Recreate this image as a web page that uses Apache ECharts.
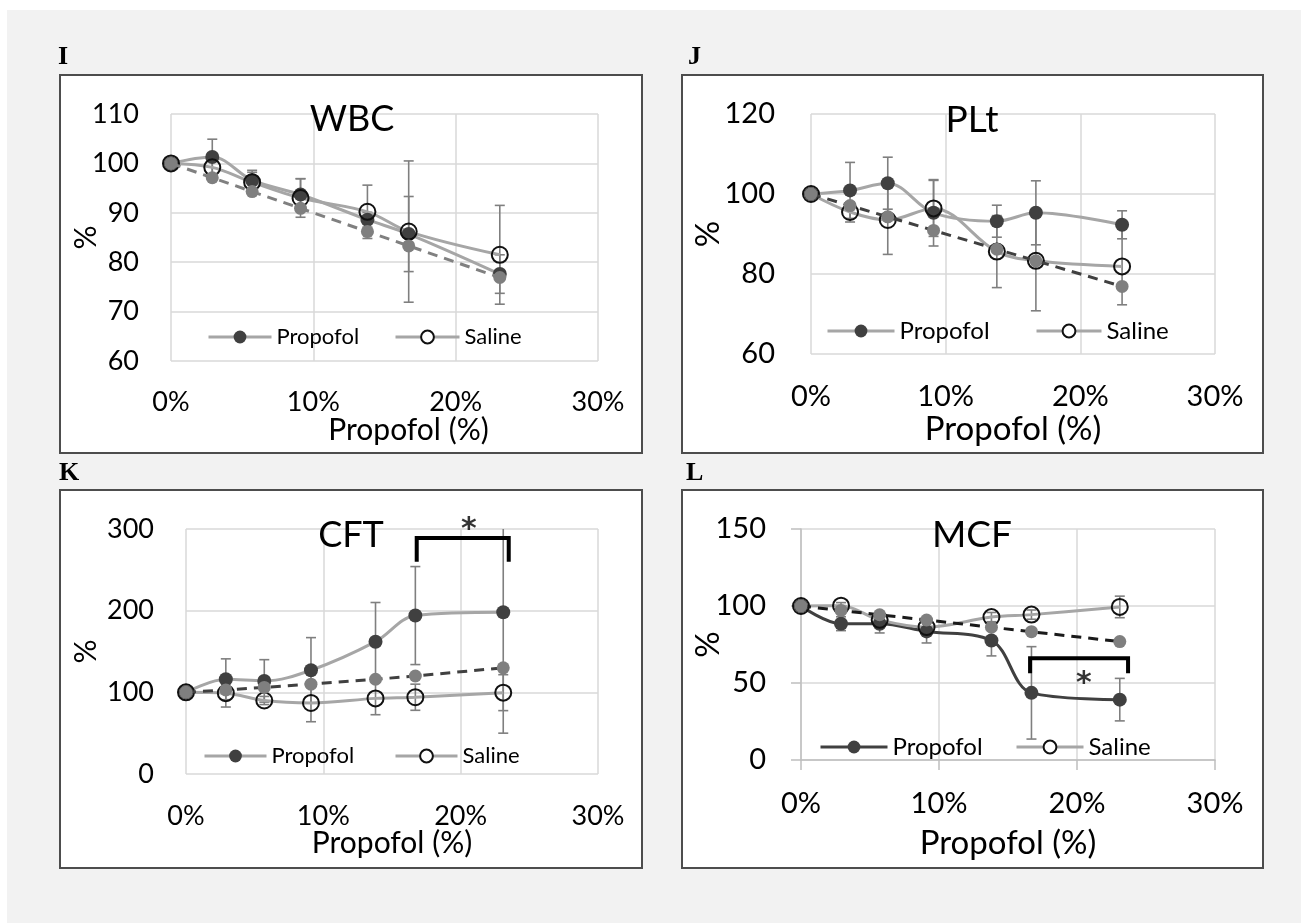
<!DOCTYPE html>
<html>
<head>
<meta charset="utf-8">
<script src="https://cdn.jsdelivr.net/npm/echarts@6/dist/echarts.min.js"></script>
<style>
  html, body { margin: 0; padding: 0; background: #ffffff; }
  #fig { width: 1301px; height: 923px; }
</style>
</head>
<body>
<div id="fig"></div>
<script>
// Propofol fraction of the sample volume at each dilution step
const propofolConc = [0, 0.029, 0.057, 0.091, 0.138, 0.167, 0.231];

// Values expected from dilution alone (grey dots, dashed line)
const expectedDilution = [100, 97.1, 94.3, 90.9, 86.2, 83.3, 76.9];
const expectedCFT      = [100, 103, 106, 110, 116, 120, 130];

// WBC, % of baseline
const wbcPropofol   = [100, 101.3, 96.6, 93.7, 88.6, 85.7, 77.6];
const wbcPropofolSD = [0, 3.6, 2.0, 3.2, 1.5, 7.6, 3.9];
const wbcSaline     = [100, 99.2, 96.2, 93.0, 90.2, 86.2, 81.5];
const wbcSalineSD   = [0, 1.5, 2.0, 3.9, 5.4, 14.3, 10.0];

// Platelets, % of baseline
const pltPropofol   = [100, 100.9, 102.7, 95.3, 93.2, 95.3, 92.3];
const pltPropofolSD = [0, 7.0, 6.5, 8.3, 4.0, 8.0, 3.5];
const pltSaline     = [100, 95.5, 93.5, 96.4, 85.6, 83.3, 81.9];
const pltSalineSD   = [0, 2.5, 8.6, 7.0, 9.0, 12.5, 9.6];

// Clot formation time, % of baseline
const cftPropofol   = [100, 116, 114, 127, 162, 194, 198];
const cftPropofolSD = [0, 25, 26, 40, 48, 60, 148];
const cftSaline     = [100, 99, 90, 87, 92.6, 94, 99.6];
const cftSalineSD   = [0, 17, 5, 23, 20, 16, 22];

// Maximum clot firmness, % of baseline
const mcfPropofol   = [100, 88.5, 88.5, 83.5, 77.6, 43.6, 39.2];
const mcfPropofolSD = [0, 4.5, 6, 7.5, 10, 30, 13.8];
const mcfSaline     = [100, 100.2, 91, 86.3, 92.8, 94.4, 99.4];
const mcfSalineSD   = [0, 2, 3, 4, 3, 3, 7];

// Significance brackets (propofol vs saline) in data units
const cftBracket = [[0.168, 260], [0.168, 289], [0.235, 289], [0.235, 260]];
const cftStar    = [0.206, 309];
const mcfBracket = [[0.166, 56.4], [0.166, 66.1], [0.237, 66.1], [0.237, 56.4]];
const mcfStar    = [0.205, 55];

const FONT = 'Lato';

const panels = [
  { letter: 'I', title: 'WBC', letterPos: [58, 57], titlePos: [352, 119], frame: [60, 75, 582, 378],
    grid: { left: 171, top: 114, width: 427, height: 247 },
    y: { min: 60, max: 110, interval: 10 },
    propofol: wbcPropofol, propofolSD: wbcPropofolSD, saline: wbcSaline, salineSD: wbcSalineSD,
    expected: expectedDilution,
    dashColor: '#808080', propofolLine: '#a6a6a6', ticks: false,
    tickFs: 27, nameFs: 30, legendFs: 22, titleFs: 36,
    yLabelMargin: 32, xLabelMargin: 28, yNameGap: 70, xNameGap: 54, xNameShift: 48,
    legend: { y: 334, p: [207, 63], s: [394, 64] } },
  { letter: 'J', title: 'PLt', letterPos: [688, 57], titlePos: [972, 120], frame: [682, 75, 581, 378],
    grid: { left: 811, top: 114, width: 404, height: 240 },
    y: { min: 60, max: 120, interval: 20 },
    propofol: pltPropofol, propofolSD: pltPropofolSD, saline: pltSaline, salineSD: pltSalineSD,
    expected: expectedDilution,
    dashColor: '#404040', propofolLine: '#a6a6a6', ticks: false,
    tickFs: 29, nameFs: 33, legendFs: 24, titleFs: 37,
    yLabelMargin: 36, xLabelMargin: 28, yNameGap: 86, xNameGap: 59, xNameShift: 0,
    legend: { y: 327, p: [826, 67], s: [1035, 65] } },
  { letter: 'K', title: 'CFT', letterPos: [59, 473], titlePos: [351, 535], frame: [60, 490, 582, 378],
    grid: { left: 186, top: 529, width: 412, height: 245 },
    y: { min: 0, max: 300, interval: 100 },
    propofol: cftPropofol, propofolSD: cftPropofolSD, saline: cftSaline, salineSD: cftSalineSD,
    expected: expectedCFT,
    dashColor: '#404040', propofolLine: '#a6a6a6', ticks: false,
    tickFs: 27, nameFs: 30, legendFs: 22, titleFs: 36,
    yLabelMargin: 32, xLabelMargin: 29, yNameGap: 85, xNameGap: 54, xNameShift: 0,
    legend: { y: 753, p: [203, 62], s: [394, 62] },
    bracket: cftBracket, star: cftStar },
  { letter: 'L', title: 'MCF', letterPos: [686, 473], titlePos: [972, 535], frame: [682, 490, 581, 378],
    grid: { left: 801, top: 529, width: 414, height: 231 },
    y: { min: 0, max: 150, interval: 50 },
    propofol: mcfPropofol, propofolSD: mcfPropofolSD, saline: mcfSaline, salineSD: mcfSalineSD,
    expected: expectedDilution,
    dashColor: '#1a1a1a', propofolLine: '#404040', ticks: true,
    tickFs: 29, nameFs: 33, legendFs: 24, titleFs: 37,
    yLabelMargin: 35, xLabelMargin: 29, yNameGap: 76, xNameGap: 67, xNameShift: 0,
    legend: { y: 743, p: [819, 67], s: [1015, 67] },
    bracket: mcfBracket, star: mcfStar }
];

const GRID_LINE = { color: '#d9d9d9', width: 1.5 };
const AXIS_LINE = { color: '#bfbfbf', width: 1.5 };

function pairs(values) {
  return propofolConc.map((x, k) => [x, values[k]]);
}

function errorRows(values, sd) {
  const rows = [];
  propofolConc.forEach((x, k) => {
    if (sd[k] > 0) rows.push([x, values[k] - sd[k], values[k] + sd[k]]);
  });
  return rows;
}

// Vertical error bar with caps, clipped to the plot area
function renderErrorBar(params, api) {
  const x = api.value(0), lo = api.value(1), hi = api.value(2);
  const cs = params.coordSys;
  const top = api.coord([x, hi]);
  const bot = api.coord([x, lo]);
  const yTop = Math.max(top[1], cs.y);
  const yBot = Math.min(bot[1], cs.y + cs.height);
  const style = { stroke: '#7f7f7f', lineWidth: 1.6 };
  const half = 5;
  const children = [
    { type: 'line', shape: { x1: top[0], y1: yTop, x2: top[0], y2: yBot }, style }
  ];
  if (top[1] >= cs.y) {
    children.push({ type: 'line', shape: { x1: top[0] - half, y1: yTop, x2: top[0] + half, y2: yTop }, style });
  }
  if (bot[1] <= cs.y + cs.height) {
    children.push({ type: 'line', shape: { x1: bot[0] - half, y1: yBot, x2: bot[0] + half, y2: yBot }, style });
  }
  return { type: 'group', children };
}

const grids = [], xAxes = [], yAxes = [], series = [], legends = [], graphics = [];

graphics.push({
  type: 'rect', z: -20, silent: true,
  shape: { x: 7, y: 10, width: 1294, height: 913 },
  style: { fill: '#f2f2f2' }
});

panels.forEach((p, i) => {
  grids.push(Object.assign({ containLabel: false }, p.grid));

  xAxes.push({
    gridIndex: i, type: 'value', min: 0, max: 0.3, interval: 0.1,
    name: 'Propofol (%)', nameLocation: 'middle', nameGap: p.xNameGap, nameMoveOverlap: false,
    nameTextStyle: { fontFamily: FONT, fontSize: p.nameFs, color: '#000', lineHeight: p.nameFs,
                     padding: [0, 0, 0, p.xNameShift] },
    axisLine: { show: p.ticks, lineStyle: AXIS_LINE },
    axisTick: { show: p.ticks, length: 10, lineStyle: AXIS_LINE },
    axisLabel: { fontFamily: FONT, fontSize: p.tickFs, color: '#000', margin: p.xLabelMargin,
                 lineHeight: p.tickFs, formatter: v => Math.round(v * 100) + '%' },
    splitLine: { show: true, lineStyle: GRID_LINE }
  });

  yAxes.push({
    gridIndex: i, type: 'value', min: p.y.min, max: p.y.max, interval: p.y.interval,
    name: '%', nameLocation: 'middle', nameRotate: 90, nameGap: p.yNameGap, nameMoveOverlap: false,
    nameTextStyle: { fontFamily: FONT, fontSize: p.nameFs, color: '#000', lineHeight: p.nameFs },
    axisLine: { show: p.ticks, lineStyle: AXIS_LINE },
    axisTick: { show: p.ticks, length: 10, lineStyle: AXIS_LINE },
    axisLabel: { fontFamily: FONT, fontSize: p.tickFs, color: '#000', margin: p.yLabelMargin },
    splitLine: { show: true, lineStyle: GRID_LINE }
  });

  const common = { xAxisIndex: i, yAxisIndex: i, animation: false, emphasis: { disabled: true } };

  // error bars sit beneath the markers
  series.push(Object.assign({
    type: 'custom', name: 'SD', z: 1, renderItem: renderErrorBar,
    encode: { x: 0, y: [1, 2] },
    data: errorRows(p.propofol, p.propofolSD).concat(errorRows(p.saline, p.salineSD))
  }, common));

  series.push(Object.assign({
    type: 'line', name: 'Propofol', z: 3, smooth: 0.35,
    data: pairs(p.propofol),
    symbol: 'circle', symbolSize: 14,
    itemStyle: { color: '#404040' },
    lineStyle: { color: p.propofolLine, width: 3 }
  }, common));

  series.push(Object.assign({
    type: 'line', name: 'Saline', z: 3, smooth: 0.35,
    data: pairs(p.saline),
    symbol: 'circle', symbolSize: 16,
    itemStyle: { color: 'rgba(255,255,255,0)', borderColor: '#111111', borderWidth: 2 },
    lineStyle: { color: '#a6a6a6', width: 3 }
  }, common));

  series.push(Object.assign({
    type: 'line', name: 'Expected', z: 4,
    data: pairs(p.expected),
    symbol: 'circle', symbolSize: 13,
    itemStyle: { color: '#7f7f7f' },
    lineStyle: { color: p.dashColor, width: 3, type: [10, 7] }
  }, common));

  if (p.bracket) {
    series.push(Object.assign({
      type: 'line', name: 'Significance', z: 6, clip: false,
      data: p.bracket, symbol: 'none',
      lineStyle: { color: '#000', width: 4, cap: 'butt', join: 'miter' }
    }, common));
    series.push(Object.assign({
      type: 'scatter', name: 'Significance mark', z: 6, clip: false,
      data: [p.star], symbolSize: 0,
      label: { show: true, position: 'inside', formatter: '*', offset: [0, 9],
               fontFamily: 'DejaVu Sans', fontSize: 30, fontWeight: 'bold', color: '#000' }
    }, common));
  }

  const lgCommon = {
    orient: 'horizontal', padding: 0, itemHeight: 16, selectedMode: false,
    top: p.legend.y - 8,
    textStyle: { fontFamily: FONT, fontSize: p.legendFs, color: '#000', lineHeight: 16 }
  };
  legends.push(Object.assign({}, lgCommon, {
    left: p.legend.p[0], itemWidth: p.legend.p[1],
    data: [{ name: 'Propofol',
             itemStyle: { color: '#404040', borderWidth: 0 },
             lineStyle: { color: p.propofolLine, width: 3 } }]
  }));
  legends.push(Object.assign({}, lgCommon, {
    left: p.legend.s[0], itemWidth: p.legend.s[1],
    data: [{ name: 'Saline',
             itemStyle: { color: '#ffffff', borderColor: '#111111', borderWidth: 2 },
             lineStyle: { color: '#a6a6a6', width: 3 } }]
  }));

  // panel frame, panel letter and chart title
  graphics.push({
    type: 'rect', z: -10, silent: true,
    shape: { x: p.frame[0], y: p.frame[1], width: p.frame[2], height: p.frame[3] },
    style: { fill: '#ffffff', stroke: '#4d4d4d', lineWidth: 2 }
  });
  graphics.push({
    type: 'text', z: 50, silent: true,
    style: { text: p.letter, x: p.letterPos[0], y: p.letterPos[1],
             font: 'bold 26px "Liberation Serif"', fill: '#000',
             align: 'left', verticalAlign: 'middle', textAlign: 'left', textVerticalAlign: 'middle' }
  });
  graphics.push({
    type: 'text', z: 50, silent: true,
    style: { text: p.title, x: p.titlePos[0], y: p.titlePos[1],
             font: p.titleFs + 'px ' + FONT, fill: '#000',
             align: 'center', verticalAlign: 'middle', textAlign: 'center', textVerticalAlign: 'middle' }
  });
});

const chart = echarts.init(document.getElementById('fig'), null, { renderer: 'canvas' });
chart.setOption({
  backgroundColor: '#ffffff',
  animation: false,
  textStyle: { fontFamily: FONT },
  grid: grids,
  xAxis: xAxes,
  yAxis: yAxes,
  legend: legends,
  series: series,
  graphic: { elements: graphics }
});
</script>
</body>
</html>
